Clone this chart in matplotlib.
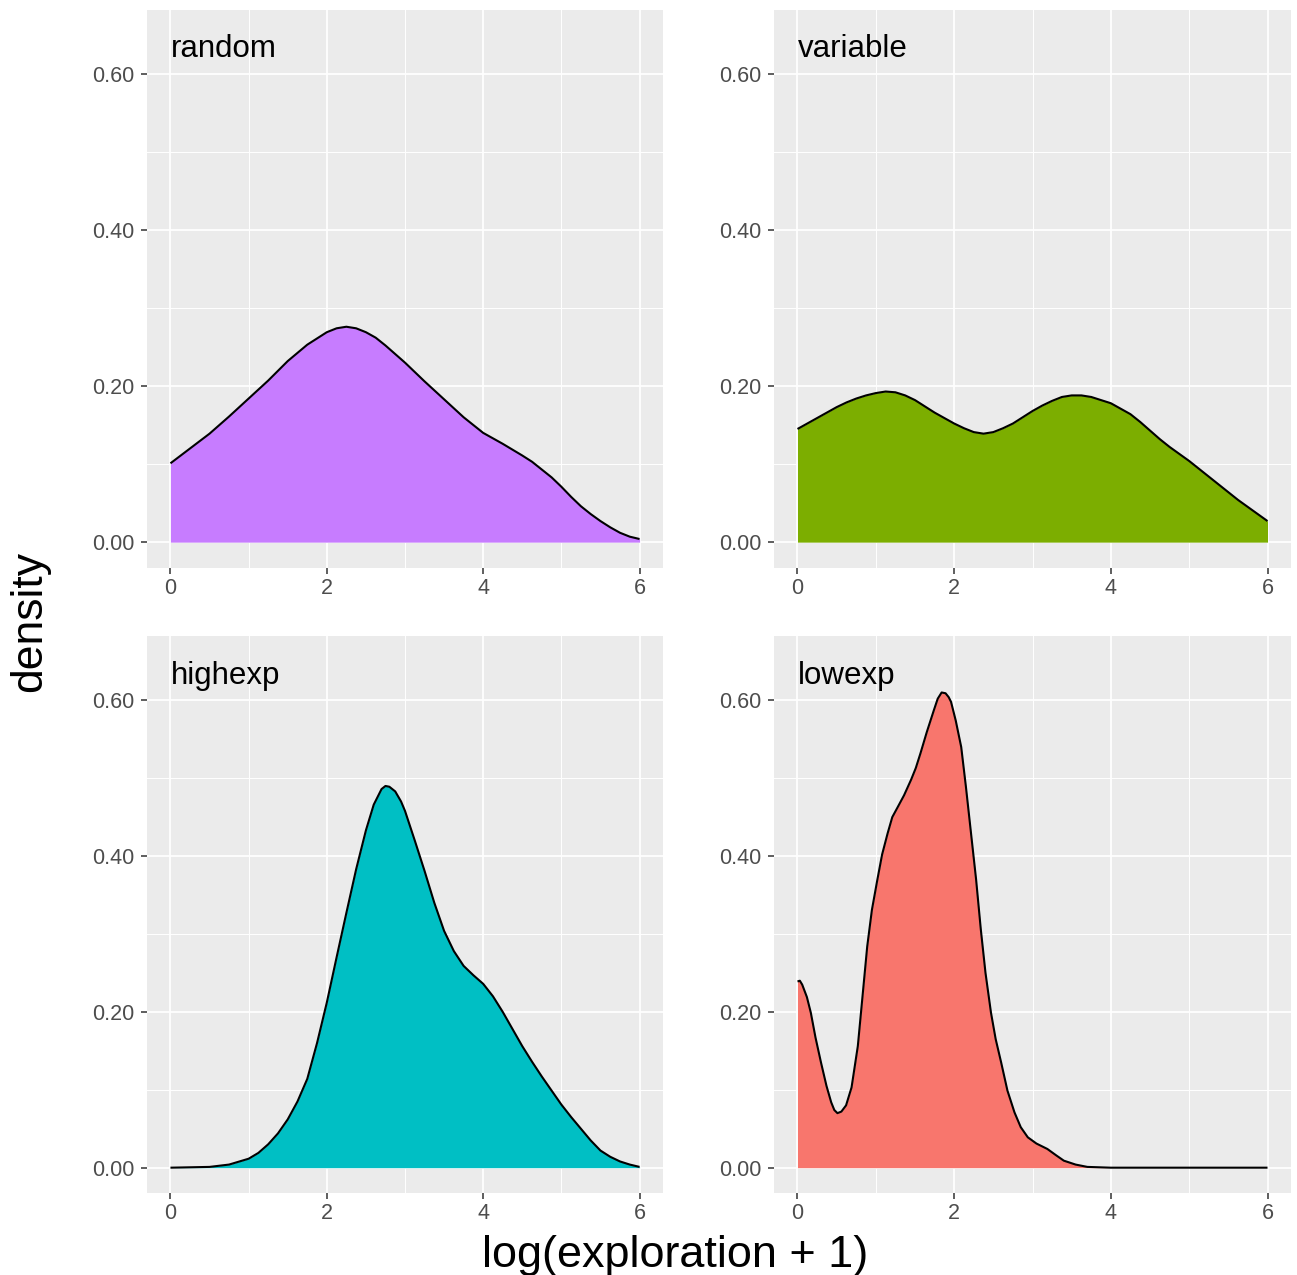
import matplotlib
matplotlib.use("Agg")
import matplotlib.pyplot as plt
from matplotlib.ticker import FixedLocator

plt.rcParams['font.family'] = ['Liberation Sans', 'DejaVu Sans']

# ---------------- data ----------------
panel_names = ["random", "variable", "highexp", "lowexp"]
panel_colors = ["#C77CFF", "#7CAE00", "#00BFC4", "#F8766D"]

random_x = [0, 0.25, 0.5, 0.75, 1.0, 1.25, 1.5, 1.75, 2.0, 2.125, 2.25, 2.375,
            2.5, 2.625, 2.75, 3.0, 3.25, 3.5, 3.75, 4.0, 4.25, 4.5, 4.625, 4.75,
            4.875, 5.0, 5.125, 5.25, 5.375, 5.5, 5.625, 5.75, 5.875, 6.0]
random_y = [0.101, 0.120, 0.139, 0.161, 0.184, 0.207, 0.232, 0.253, 0.269, 0.274,
            0.276, 0.274, 0.269, 0.262, 0.252, 0.230, 0.206, 0.183, 0.160, 0.140,
            0.126, 0.111, 0.103, 0.093, 0.083, 0.071, 0.058, 0.046, 0.036, 0.027,
            0.019, 0.012, 0.007, 0.004]

variable_x = [0, 0.125, 0.25, 0.375, 0.5, 0.625, 0.75, 0.875, 1.0, 1.125, 1.25,
              1.375, 1.5, 1.625, 1.75, 1.875, 2.0, 2.125, 2.25, 2.375, 2.5, 2.625,
              2.75, 2.875, 3.0, 3.125, 3.25, 3.375, 3.5, 3.625, 3.75, 3.875, 4.0,
              4.125, 4.25, 4.375, 4.5, 4.625, 4.75, 4.875, 5.0, 5.125, 5.25,
              5.375, 5.5, 5.625, 5.75, 5.875, 6.0]
variable_y = [0.145, 0.152, 0.159, 0.166, 0.173, 0.179, 0.184, 0.188, 0.191, 0.193,
              0.192, 0.188, 0.182, 0.174, 0.166, 0.159, 0.152, 0.146, 0.141, 0.139,
              0.141, 0.146, 0.152, 0.160, 0.168, 0.175, 0.181, 0.186, 0.188, 0.188,
              0.186, 0.182, 0.178, 0.171, 0.164, 0.154, 0.143, 0.132, 0.122, 0.113,
              0.104, 0.094, 0.084, 0.074, 0.064, 0.054, 0.045, 0.036, 0.027]

highexp_x = [0, 0.5, 0.75, 1.0, 1.125, 1.25, 1.375, 1.5, 1.625, 1.75, 1.875, 2.0,
             2.125, 2.25, 2.375, 2.5, 2.6, 2.7, 2.75, 2.8, 2.875, 2.95, 3.0, 3.125,
             3.25, 3.375, 3.5, 3.625, 3.75, 3.875, 4.0, 4.125, 4.25, 4.375, 4.5,
             4.625, 4.75, 4.875, 5.0, 5.125, 5.25, 5.375, 5.5, 5.625, 5.75, 5.875,
             6.0]
highexp_y = [0.000, 0.001, 0.004, 0.0115, 0.019, 0.030, 0.044, 0.062, 0.085, 0.114,
             0.160, 0.212, 0.270, 0.327, 0.383, 0.433, 0.466, 0.486, 0.490, 0.489,
             0.483, 0.470, 0.458, 0.420, 0.381, 0.340, 0.304, 0.278, 0.259, 0.247,
             0.236, 0.220, 0.200, 0.178, 0.156, 0.136, 0.117, 0.099, 0.081, 0.065,
             0.050, 0.035, 0.022, 0.014, 0.008, 0.004, 0.001]

lowexp_x = [0, 0.03, 0.06, 0.12, 0.17, 0.23, 0.30, 0.37, 0.43, 0.47, 0.51, 0.56,
            0.62, 0.69, 0.77, 0.83, 0.89, 0.95, 1.02, 1.08, 1.15, 1.21, 1.28, 1.36,
            1.45, 1.51, 1.57, 1.65, 1.74, 1.79, 1.84, 1.89, 1.93, 1.96, 2.02, 2.09,
            2.15, 2.21, 2.28, 2.34, 2.40, 2.47, 2.53, 2.60, 2.68, 2.77, 2.85, 2.94,
            3.05, 3.19, 3.30, 3.40, 3.55, 3.70, 4.0, 5.0, 6.0]
lowexp_y = [0.239, 0.240, 0.235, 0.219, 0.199, 0.167, 0.135, 0.105, 0.084, 0.074,
            0.070, 0.072, 0.080, 0.103, 0.156, 0.220, 0.284, 0.331, 0.370, 0.402,
            0.429, 0.450, 0.463, 0.478, 0.498, 0.513, 0.532, 0.559, 0.587, 0.602,
            0.610, 0.609, 0.604, 0.598, 0.574, 0.540, 0.489, 0.434, 0.370, 0.306,
            0.250, 0.199, 0.165, 0.135, 0.099, 0.071, 0.052, 0.039, 0.031, 0.024,
            0.016, 0.009, 0.004, 0.001, 0.0, 0.0, 0.0]

xs = [random_x, variable_x, highexp_x, lowexp_x]
ys = [random_y, variable_y, highexp_y, lowexp_y]

x_ticks = [0, 2, 4, 6]
x_tick_labels = ["0", "2", "4", "6"]
y_ticks = [0.0, 0.2, 0.4, 0.6]
y_tick_labels = ["0.00", "0.20", "0.40", "0.60"]

x_label = "log(exploration + 1)"
y_label = "density"

# ---------------- layout ----------------
W, H = 1297, 1275
fig = plt.figure(figsize=(W / 100, H / 100), dpi=100)

lefts = [147, 774, 147, 774]
rights = [663, 1291, 663, 1291]
tops = [9.5, 9.5, 636, 636]
bottoms = [567.5, 567.5, 1193, 1193]

for i in range(4):
    l, r, t, b = lefts[i], rights[i], tops[i], bottoms[i]
    ax = fig.add_axes([l / W, 1 - b / H, (r - l) / W, (b - t) / H])
    ax.set_facecolor("#EBEBEB")
    for s in ax.spines.values():
        s.set_visible(False)
    ax.set_xlim(-0.3, 6.3)
    ax.set_ylim(-0.0325, 0.6825)
    ax.xaxis.set_major_locator(FixedLocator(x_ticks))
    ax.set_xticklabels(x_tick_labels)
    ax.yaxis.set_major_locator(FixedLocator(y_ticks))
    ax.set_yticklabels(y_tick_labels)
    ax.xaxis.set_minor_locator(FixedLocator([1, 3, 5]))
    ax.yaxis.set_minor_locator(FixedLocator([0.1, 0.3, 0.5]))
    ax.grid(which="major", color="white", lw=1.25)
    ax.grid(which="minor", color="white", lw=0.7)
    ax.set_axisbelow(True)
    ax.tick_params(which="major", length=4, width=1.1, color="#333333",
                   labelsize=15.5, labelcolor="#4D4D4D")
    ax.tick_params(axis="x", which="major", pad=3.5)
    ax.tick_params(axis="y", which="major", pad=5)
    ax.tick_params(which="minor", length=0)

    ax.fill_between(xs[i], 0, ys[i], color=panel_colors[i], lw=0, zorder=2)
    ax.plot(xs[i], ys[i], color="black", lw=1.5, zorder=3,
            solid_joinstyle="round", solid_capstyle="butt")
    ax.text(0, 0.621, panel_names[i], fontsize=22.5, color="black",
            ha="left", va="baseline", zorder=4)

fig.text(675.5 / W, 1 - 1266.7 / H, x_label, fontsize=32.4, ha="center",
         va="baseline", color="black")
fig.text(30 / W, 1 - 621 / H, y_label, fontsize=32, ha="center",
         va="center", rotation=90, color="black")

fig.savefig("out.png", dpi=100)
